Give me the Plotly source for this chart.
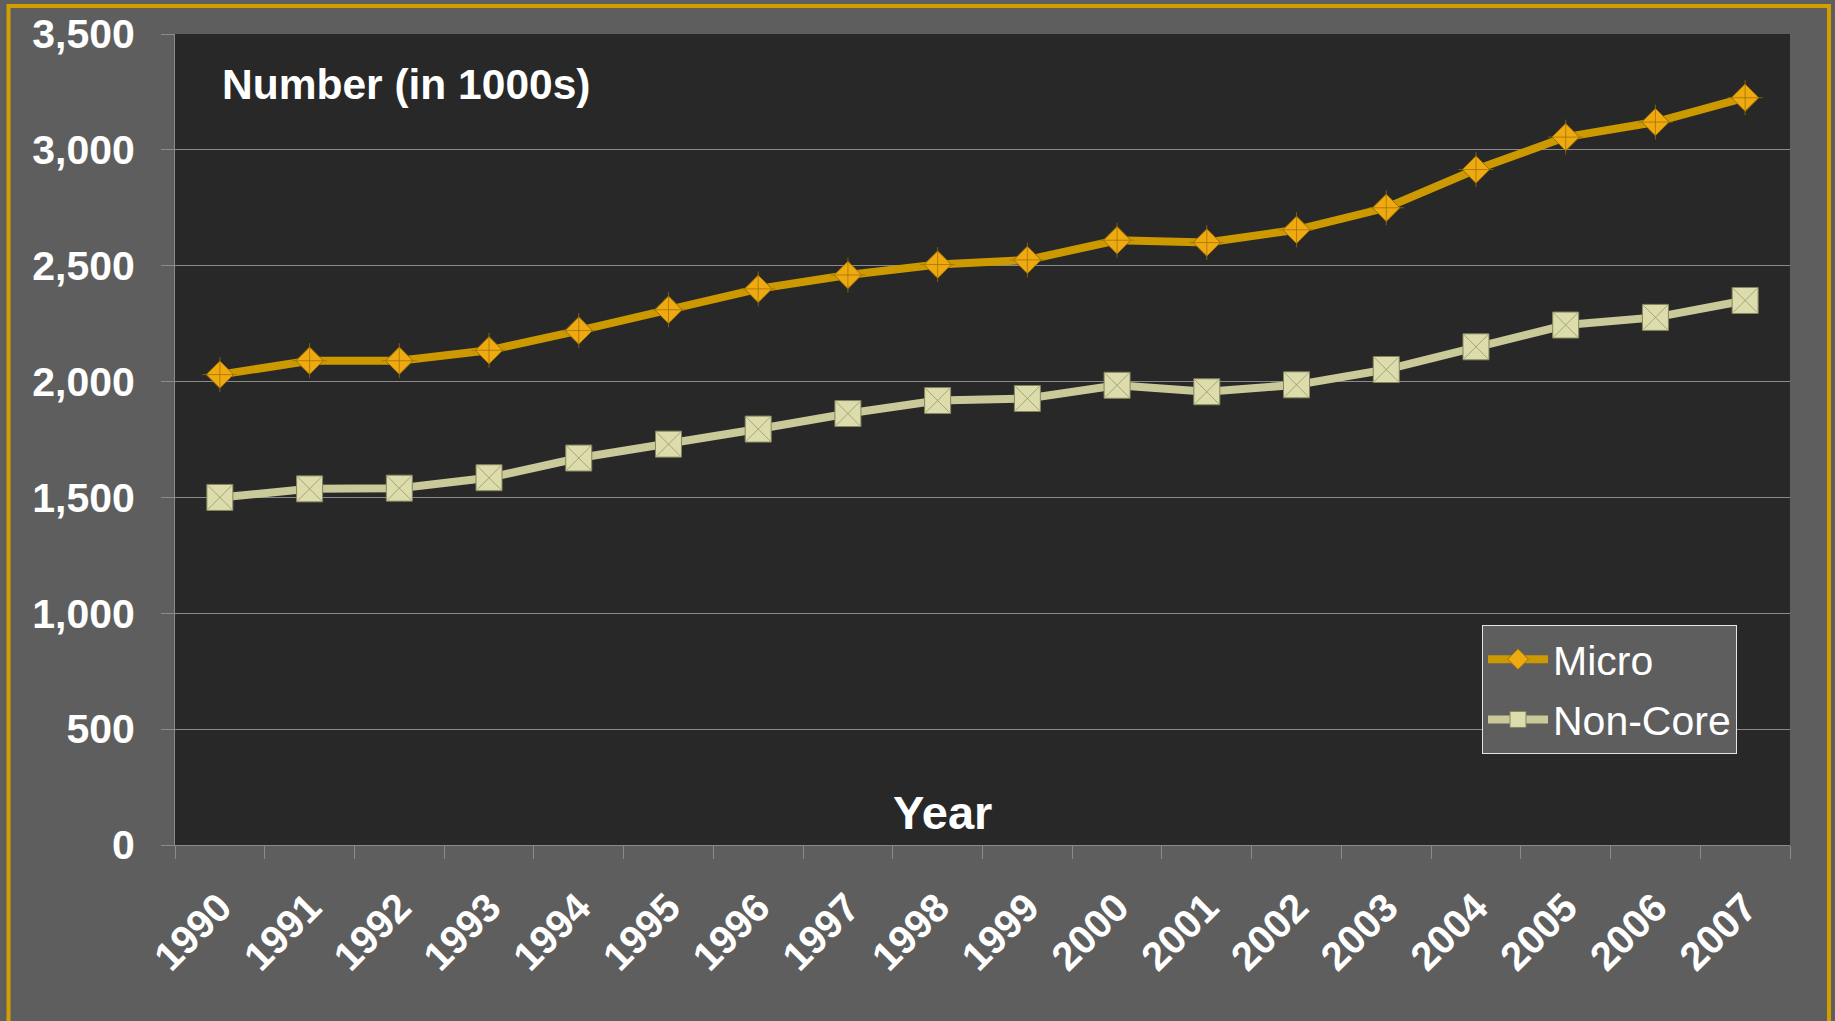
import plotly.graph_objects as go

# Yearly counts, in thousands
years = ["1990", "1991", "1992", "1993", "1994", "1995", "1996", "1997", "1998",
         "1999", "2000", "2001", "2002", "2003", "2004", "2005", "2006", "2007"]
micro = [2030, 2090, 2090, 2135, 2220, 2310, 2400, 2460, 2505,
         2525, 2610, 2600, 2655, 2750, 2915, 3055, 3120, 3225]
non_core = [1500, 1537, 1540, 1585, 1670, 1730, 1795, 1862, 1918,
            1927, 1984, 1956, 1986, 2052, 2150, 2244, 2277, 2350]
y_ticks = [0, 500, 1000, 1500, 2000, 2500, 3000, 3500]

W, H = 1835, 1021
ML, MR, MT, MB = 175, 45, 34, 176
PW, PH = W - ML - MR, H - MT - MB

FONT = "Arial, 'Liberation Sans', Helvetica, sans-serif"
GOLD_LINE = "#cc9900"
GOLD_MARK = "#eeaa10"
KHAKI_LINE = "#c9c99a"
KHAKI_MARK = "#dcdcac"
GRID = "#8a8a8a"


def px_x(px):
    return (px - ML) / PW


def px_y(py):
    return 1 - (py - MT) / PH


fig = go.Figure()

fig.add_trace(go.Scatter(
    x=years, y=micro, name="Micro", mode="lines+markers",
    legendgroup="micro",
    line=dict(color=GOLD_LINE, width=8),
    marker=dict(symbol="diamond", size=21, color=GOLD_MARK,
                line=dict(color="#9a7000", width=1)),
))
# facet edges on the diamond markers
fig.add_trace(go.Scatter(
    x=years, y=micro, mode="markers", showlegend=False, hoverinfo="skip",
    marker=dict(symbol="cross-thin-open", size=25,
                color="rgba(160,112,0,0.75)",
                line=dict(width=1)),
))

fig.add_trace(go.Scatter(
    x=years, y=non_core, name="Non-Core", mode="lines+markers",
    legendgroup="noncore",
    line=dict(color=KHAKI_LINE, width=8),
    marker=dict(symbol="square", size=26, color=KHAKI_MARK,
                line=dict(color="#85855e", width=1)),
))
# facet edges on the square markers
fig.add_trace(go.Scatter(
    x=years, y=non_core, mode="markers", showlegend=False, hoverinfo="skip",
    marker=dict(symbol="x-thin-open", size=24,
                color="rgba(150,150,105,0.8)",
                line=dict(width=1)),
))

fig.update_layout(
    width=W, height=H,
    margin=dict(l=ML, r=MR, t=MT, b=MB, pad=0),
    paper_bgcolor="#5e5e5e",
    plot_bgcolor="#282828",
    font=dict(family=FONT, color="white"),
    showlegend=True,
    legend=dict(
        x=px_x(1482), y=px_y(625), xanchor="left", yanchor="top",
        bgcolor="#5e5e5e", bordercolor="#e4e4e4", borderwidth=1,
        font=dict(family=FONT, size=41, color="white"),
        traceorder="grouped", tracegroupgap=4,
        itemwidth=60,
    ),
    xaxis=dict(
        type="category", range=[-0.5, len(years) - 0.5],
        tickson="boundaries", ticks="outside", ticklen=13, tickwidth=1,
        tickcolor=GRID, showline=True, linecolor=GRID, linewidth=1,
        showgrid=False, tickangle=-45,
        tickfont=dict(family=FONT, size=40, color="white", weight="bold"),
        ticklabelstandoff=22,
    ),
    yaxis=dict(
        range=[0, 3500], tickvals=y_ticks, tickformat=",",
        ticks="outside", ticklen=13, tickwidth=1, tickcolor=GRID,
        showline=True, linecolor=GRID, linewidth=1,
        showgrid=True, gridcolor=GRID, gridwidth=1, zeroline=False,
        tickfont=dict(family=FONT, size=41, color="white", weight="bold"),
        ticklabelstandoff=18,
    ),
    annotations=[
        dict(text="Number (in 1000s)", xref="paper", yref="paper",
             x=px_x(220), y=px_y(84), xanchor="left", yanchor="middle",
             showarrow=False,
             font=dict(family=FONT, size=42.5, color="white", weight="bold")),
        dict(text="Year", xref="paper", yref="paper",
             x=px_x(942), y=px_y(812), xanchor="center", yanchor="middle",
             showarrow=False,
             font=dict(family=FONT, size=47, color="white", weight="bold")),
    ],
    shapes=[
        dict(type="rect", xref="paper", yref="paper", layer="above",
             x0=px_x(8.5), x1=px_x(1829), y0=px_y(1040), y1=px_y(6),
             line=dict(color="#d29e00", width=4), fillcolor="rgba(0,0,0,0)"),
    ],
)

fig.write_html("out.html")
